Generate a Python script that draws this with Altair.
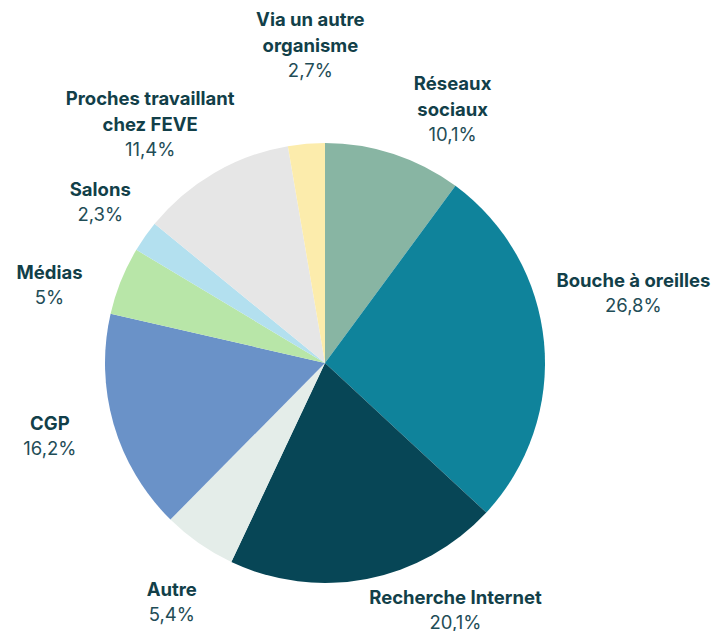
import altair as alt
import pandas as pd
import numpy as np

# --- data ---
categories = ["Réseaux sociaux", "Bouche à oreilles", "Recherche Internet", "Autre", "CGP",
              "Médias", "Salons", "Proches travaillant chez FEVE", "Via un autre organisme"]
values = [10.1, 26.8, 20.1, 5.4, 16.2, 5.0, 2.3, 11.4, 2.7]
name_line1 = ["Réseaux", "", "", "", "", "", "", "Proches travaillant", "Via un autre"]
name_line2 = ["sociaux", "Bouche à oreilles", "Recherche Internet", "Autre", "CGP",
              "Médias", "Salons", "chez FEVE", "organisme"]
pct_labels = ["10,1%", "26,8%", "20,1%", "5,4%", "16,2%", "5%", "2,3%", "11,4%", "2,7%"]

# --- styling / layout ---
colors = ["#88b5a3", "#0f839b", "#074656", "#e4ede9", "#6a92c8",
          "#b8e6a8", "#b3e0ef", "#e6e6e6", "#fcecac"]
label_shift_deg = [9.8, -7.2, -16.8, -2.4, 1.1, -6.4, 0.4, -7.6, 2.1]
label_radius = [272, 316, 280, 285, 285, 286, 276, 285, 304]
FONT = "Inter"
FS = 18.5
LH = 26

df = pd.DataFrame({
    "cat": categories,
    "value": values,
    "idx": list(range(len(categories))),
    "l1": name_line1,
    "l2": name_line2,
    "pct": pct_labels,
})
cum = np.cumsum(values)
mid = cum - np.array(values) / 2
df["label_pos"] = mid + np.array(label_shift_deg) / 3.6
df["label_r"] = label_radius

theta_scale = alt.Scale(domain=[0, 100])

base = alt.Chart(df)

pie = base.mark_arc(stroke=None).encode(
    theta=alt.Theta("value:Q", stack=True, scale=theta_scale),
    order=alt.Order("idx:Q"),
    color=alt.Color("cat:N", scale=alt.Scale(domain=categories, range=colors), legend=None),
)

label_enc = dict(
    theta=alt.Theta("label_pos:Q", stack=None, scale=theta_scale),
    radius=alt.Radius("label_r:Q", scale=None),
)

line1 = base.mark_text(
    font=FONT, fontSize=FS, fontWeight="bold", color="#123f49",
    baseline="bottom", align="center", dy=-3 - LH,
).encode(text="l1:N", **label_enc)

line2 = base.mark_text(
    font=FONT, fontSize=FS, fontWeight="bold", color="#123f49",
    baseline="bottom", align="center", dy=-3,
).encode(text="l2:N", **label_enc)

pcts = base.mark_text(
    font=FONT, fontSize=FS, fontWeight="normal", color="#1f4d57",
    baseline="top", align="center", dy=3,
).encode(text="pct:N", **label_enc)

chart = alt.layer(pie, line1, line2, pcts).properties(
    width=440, height=440,
    padding={"left": 97, "top": 135, "right": 169, "bottom": 48},
    autosize=alt.AutoSizeParams(type="none"),
).configure_view(stroke=None)

chart.save("out.html", embed_options={"renderer": "svg", "actions": False})
